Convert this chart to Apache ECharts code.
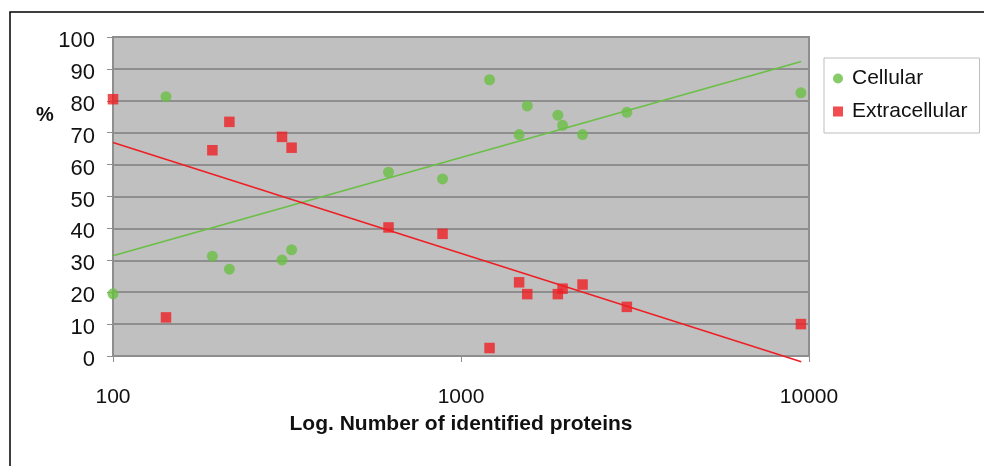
<!DOCTYPE html>
<html>
<head>
<meta charset="utf-8">
<script src="https://cdn.jsdelivr.net/npm/echarts@6/dist/echarts.min.js"></script>
<style>
  html, body { margin: 0; padding: 0; background: #fff; }
  #chart { width: 984px; height: 466px; }
</style>
</head>
<body>
<div id="chart"></div>
<script>
// ---- data ----
const proteinCounts = [100, 142, 193, 216, 306, 326, 619, 885, 1208, 1469, 1550, 1898, 1958, 2235, 2996, 9478];
const cellularPct = [19.5, 81.3, 31.3, 27.2, 30.1, 33.3, 57.6, 55.5, 86.6, 69.4, 78.4, 75.5, 72.3, 69.4, 76.4, 82.5];
const extracellularPct = [80.5, 12.1, 64.5, 73.4, 68.7, 65.3, 40.3, 38.3, 2.5, 23.1, 19.4, 19.4, 21.1, 22.4, 15.4, 10.0];
// trend line end points
const trendX = [100, 9500];
const cellularTrend = [31.4, 92.3];
const extracellularTrend = [66.9, -1.8];
const seriesNames = ['Cellular', 'Extracellular'];
const yTicks = { min: 0, max: 100, interval: 10 };
const xRange = { min: 100, max: 10000 };
const xTitle = 'Log. Number of identified proteins';
const yTitle = '%';

const GREEN = '#6abf45';
const RED = '#ee1f24';
const FONT = '"Liberation Sans", Arial, sans-serif';

const pairs = (xs, ys) => xs.map((x, i) => [x, ys[i]]);

const chart = echarts.init(document.getElementById('chart'), null, { renderer: 'canvas' });
chart.setOption({
  backgroundColor: '#ffffff',
  animation: false,
  textStyle: { fontFamily: FONT },
  grid: {
    left: 113, top: 37, right: 175, bottom: 110,
    show: true, backgroundColor: '#c0c0c0', borderColor: '#8e8e8e', borderWidth: 2
  },
  graphic: [
    { type: 'rect', shape: { x: 10, y: 12, width: 1000, height: 500 },
      style: { fill: 'none', stroke: '#000', lineWidth: 1.5 }, silent: true, z: 0 },
    { type: 'text', x: 45, y: 115,
      style: { text: yTitle, font: 'bold 20px ' + FONT, fill: '#111', align: 'center', verticalAlign: 'middle' } }
  ],
  legend: {
    orient: 'vertical',
    left: 824, top: 58,
    padding: [8, 12, 9, 9],
    itemGap: 8,
    itemWidth: 10, itemHeight: 10,
    borderColor: '#bdbdbd', borderWidth: 1,
    backgroundColor: '#fff',
    textStyle: { fontSize: 21, color: '#111', fontFamily: FONT, lineHeight: 25, padding: [0, 0, 0, 4] },
    data: [
      { name: seriesNames[0], icon: 'circle' },
      { name: seriesNames[1], icon: 'rect' }
    ]
  },
  xAxis: {
    type: 'log', logBase: 10, min: xRange.min, max: xRange.max,
    name: xTitle, nameLocation: 'middle', nameGap: 58,
    nameTextStyle: { fontSize: 21, fontWeight: 'bold', color: '#111', fontFamily: FONT },
    axisLine: { show: true, lineStyle: { color: '#8e8e8e', width: 2 } },
    axisTick: { show: true, length: 6, lineStyle: { color: '#8e8e8e', width: 1 } },
    minorTick: { show: false },
    splitLine: { show: false },
    axisLabel: { fontSize: 21, color: '#111', margin: 31, formatter: v => String(v) }
  },
  yAxis: {
    type: 'value', min: yTicks.min, max: yTicks.max, interval: yTicks.interval,
    axisLine: { show: true, lineStyle: { color: '#8e8e8e', width: 2 } },
    axisTick: { show: true, length: 6, lineStyle: { color: '#8e8e8e', width: 1 } },
    splitLine: { show: true, lineStyle: { color: '#8e8e8e', width: 2 } },
    axisLabel: { fontSize: 22, color: '#111', margin: 18, verticalAlign: 'top', lineHeight: 8 }
  },
  series: [
    { name: seriesNames[0], type: 'scatter', symbol: 'circle', symbolSize: 11,
      itemStyle: { color: GREEN }, data: pairs(proteinCounts, cellularPct), z: 5 },
    { name: seriesNames[1], type: 'scatter', symbol: 'rect', symbolSize: 10.5,
      itemStyle: { color: RED }, data: pairs(proteinCounts, extracellularPct), z: 5 },
    { name: seriesNames[0] + ' trend', type: 'line', showSymbol: false, clip: false,
      lineStyle: { color: GREEN, width: 1.6 }, data: pairs(trendX, cellularTrend), z: 3 },
    { name: seriesNames[1] + ' trend', type: 'line', showSymbol: false, clip: false,
      lineStyle: { color: RED, width: 1.6 }, data: pairs(trendX, extracellularTrend), z: 3 }
  ]
});
</script>
</body>
</html>
